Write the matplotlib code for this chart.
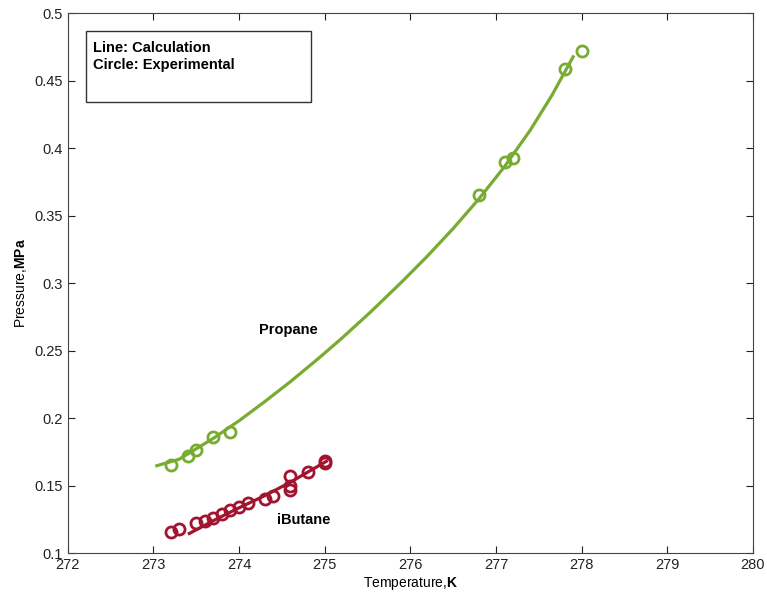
import matplotlib
matplotlib.use("Agg")
import matplotlib.pyplot as plt
from matplotlib.patches import Rectangle
from matplotlib.ticker import FormatStrFormatter

plt.rcParams["font.family"] = ["Liberation Sans", "DejaVu Sans"]
plt.rcParams["mathtext.fontset"] = "custom"
plt.rcParams["mathtext.rm"] = "Liberation Sans"
plt.rcParams["mathtext.bf"] = "Liberation Sans:bold"

# Propane: calculated curve and experimental points
propane_calc_T = [273.04, 273.3, 273.7, 274.0, 274.3, 274.6, 274.94, 275.2, 275.53,
                  275.9, 276.2, 276.5, 276.8, 277.1, 277.4, 277.65, 277.9]
propane_calc_P = [0.1647, 0.1695, 0.1850, 0.1980, 0.2122, 0.2270, 0.2449, 0.2592, 0.2783,
                  0.3009, 0.3201, 0.3405, 0.3624, 0.3864, 0.4134, 0.4389, 0.4677]
propane_exp_T = [273.2, 273.4, 273.5, 273.7, 273.9, 276.8, 277.1, 277.2, 277.8, 278.0]
propane_exp_P = [0.165, 0.172, 0.176, 0.186, 0.190, 0.365, 0.390, 0.393, 0.459, 0.472]

# iButane: calculated curve and experimental points
ibutane_calc_T = [273.42, 273.7, 274.0, 274.3, 274.6, 275.02]
ibutane_calc_P = [0.1145, 0.124, 0.1335, 0.1425, 0.1525, 0.168]
ibutane_exp_T = [273.2, 273.3, 273.5, 273.6, 273.7, 273.8, 273.9, 274.0, 274.1,
                 274.3, 274.4, 274.6, 274.6, 274.6, 274.8, 275.0, 275.0]
ibutane_exp_P = [0.1155, 0.118, 0.122, 0.124, 0.126, 0.129, 0.132, 0.134, 0.137,
                 0.140, 0.142, 0.157, 0.150, 0.147, 0.160, 0.168, 0.167]

green = "#77AC30"
red = "#A2142F"

fig = plt.figure(figsize=(7.67, 5.96), dpi=100)
ax = fig.add_axes([0.0883, 0.0721, 0.8934, 0.9056])

ax.plot(propane_calc_T, propane_calc_P, color=green, lw=2.3, solid_joinstyle="round")
ax.plot(propane_exp_T, propane_exp_P, "o", color=green, mfc="none", ms=8, mew=2)
ax.plot(ibutane_calc_T, ibutane_calc_P, color=red, lw=2.3, solid_joinstyle="round")
ax.plot(ibutane_exp_T, ibutane_exp_P, "o", color=red, mfc="none", ms=8, mew=2)

ax.text(274.58, 0.265, "Propane", fontsize=10.5, fontweight="bold", ha="center", va="center")
ax.text(274.75, 0.1244, "iButane", fontsize=10.5, fontweight="bold", ha="center", va="center")

# annotation box
ax.add_patch(Rectangle((0.0267, 0.8362), 0.3279, 0.1316, transform=ax.transAxes,
                       fill=False, edgecolor="#333333", lw=1))
ax.text(0.037, 0.948, "Line: Calculation\nCircle: Experimental", transform=ax.transAxes,
        fontsize=10.5, fontweight="bold", va="top", ha="left", linespacing=1.2)

ax.set_xlim(272, 280)
ax.set_ylim(0.1, 0.5)
ax.set_xticks(range(272, 281))
ax.set_yticks([0.1, 0.15, 0.2, 0.25, 0.3, 0.35, 0.4, 0.45, 0.5])
ax.yaxis.set_major_formatter(FormatStrFormatter("%g"))
ax.tick_params(direction="in", top=True, right=True, length=5, labelsize=10.5, colors="#222222")
for s in ax.spines.values():
    s.set_color("#444444")

ax.set_xlabel(r"Temperature,$\mathbf{K}$", fontsize=10, labelpad=2)
ax.set_ylabel(r"Pressure,$\mathbf{MPa}$", fontsize=10, labelpad=4)

fig.savefig("out.png", dpi=100)
